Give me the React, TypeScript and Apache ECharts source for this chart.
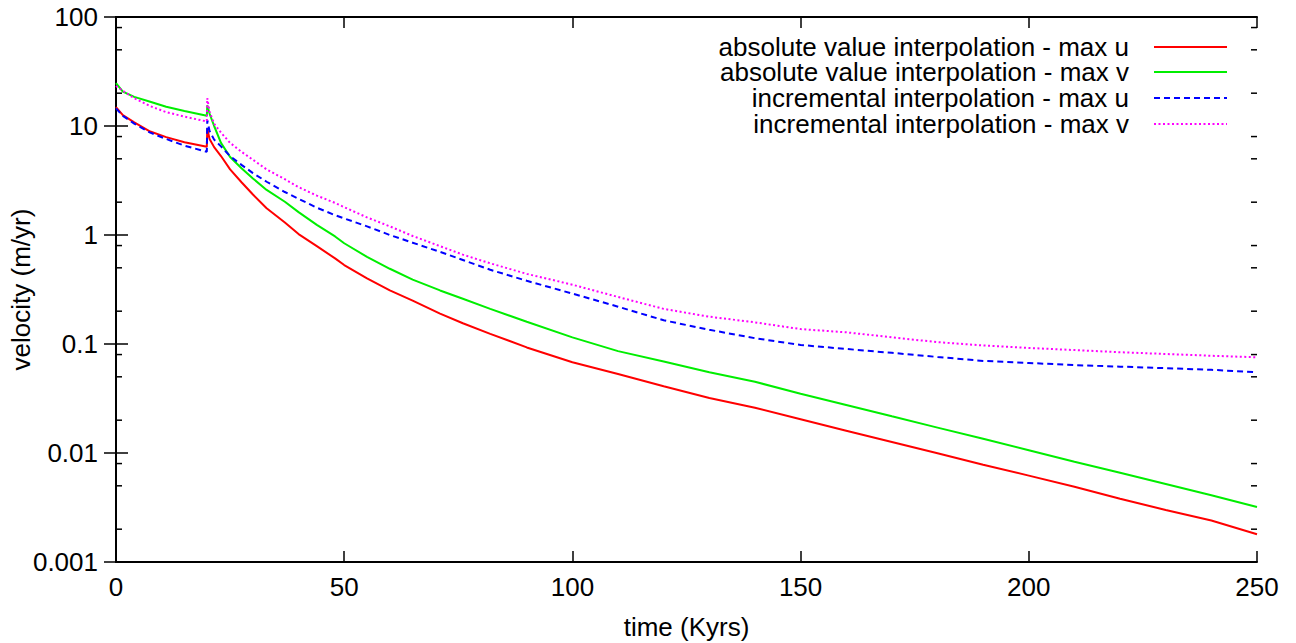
import React, { useEffect, useRef } from "react";
import * as echarts from "echarts";

const times = [0, 1.5, 4, 7.5, 11, 15, 19.9, 20, 20.5, 21.5, 23, 25, 27.5, 30, 33, 37, 40, 44, 48, 50, 55, 60, 65, 71, 76, 82, 90, 100, 110, 120, 130, 140, 150, 160, 170, 180, 190, 200, 210, 220, 230, 240, 250];

const absMaxU = [14.9, 12.6, 10.8, 8.9, 7.9, 7.1, 6.45, 9.5, 7.6, 6.4, 5.3, 4.0, 3.05, 2.35, 1.76, 1.3, 1.02, 0.79, 0.61, 0.53, 0.4, 0.31, 0.25, 0.19, 0.155, 0.124, 0.093, 0.068, 0.053, 0.041, 0.032, 0.026, 0.0204, 0.016, 0.0126, 0.00995, 0.0078, 0.0062, 0.0049, 0.0038, 0.003, 0.0024, 0.0018];
const absMaxV = [24.7, 20.7, 18.5, 16.7, 15.0, 13.7, 12.4, 15.5, 13.0, 10.0, 7.0, 5.2, 4.1, 3.3, 2.59, 2.02, 1.62, 1.24, 0.97, 0.84, 0.63, 0.49, 0.39, 0.31, 0.26, 0.21, 0.16, 0.115, 0.086, 0.069, 0.055, 0.045, 0.035, 0.0276, 0.0217, 0.0171, 0.0135, 0.0106, 0.0083, 0.0066, 0.0052, 0.0041, 0.0032];
const incMaxU = [14.5, 12.4, 10.5, 8.7, 7.6, 6.6, 5.8, 11.3, 9.0, 7.5, 6.5, 5.3, 4.4, 3.7, 3.08, 2.48, 2.15, 1.78, 1.52, 1.42, 1.2, 1.0, 0.85, 0.7, 0.59, 0.48, 0.38, 0.29, 0.22, 0.165, 0.135, 0.113, 0.098, 0.09, 0.083, 0.076, 0.07, 0.067, 0.064, 0.062, 0.06, 0.058, 0.055];
const incMaxV = [23.3, 21.0, 18.0, 15.2, 13.4, 12.2, 11.0, 18.0, 13.5, 10.5, 8.7, 7.0, 5.8, 4.9, 4.0, 3.25, 2.75, 2.3, 1.97, 1.8, 1.45, 1.2, 0.98, 0.79, 0.66, 0.55, 0.44, 0.35, 0.27, 0.21, 0.178, 0.158, 0.137, 0.128, 0.115, 0.104, 0.097, 0.092, 0.088, 0.084, 0.081, 0.078, 0.0755];

const seriesNames = [
  "absolute value interpolation - max u",
  "absolute value interpolation - max v",
  "incremental interpolation - max u",
  "incremental interpolation - max v",
];
const seriesColors = ["#ff0000", "#00ee00", "#0000ff", "#ff00ff"];

const xTicks = [0, 50, 100, 150, 200, 250];
const yMinorTicks = [0.002, 0.005, 0.008, 0.02, 0.05, 0.08, 0.2, 0.5, 0.8, 2, 5, 8, 20, 50, 80];

const FONT = "'Liberation Sans', Arial, Helvetica, sans-serif";
const FS = 26;

export default function App() {
  const ref = useRef<HTMLDivElement>(null);
  useEffect(() => {
    if (!ref.current) return;
    const chart = echarts.init(ref.current, null, { renderer: "svg" });
    const xMin = xTicks[0];
    const xMax = xTicks[xTicks.length - 1];
    const pairs = (vals: number[]) => times.map((t, i) => [t, vals[i]]);
    const allVals = [absMaxU, absMaxV, incMaxU, incMaxV];
    const dashes: any[] = ["solid", "solid", [6, 4], [2, 2.5]];
    const legendTops = [34, 59, 85, 111];

    const lineSeries = allVals.map((vals, i) => ({
      name: seriesNames[i],
      type: "line",
      data: pairs(vals),
      showSymbol: false,
      symbol: "none",
      lineStyle: { color: seriesColors[i], width: 2, type: dashes[i] },
      itemStyle: { color: seriesColors[i] },
      z: 3 + i,
    }));

    const minorSeries = {
      type: "custom",
      name: "minor",
      silent: true,
      clip: false,
      data: yMinorTicks.map((v) => [xMin, v]),
      encode: { x: 0, y: 1 },
      renderItem: (_p: any, api: any) => {
        const v = api.value(1);
        const a = api.coord([xMin, v]);
        const b = api.coord([xMax, v]);
        return {
          type: "group",
          children: [
            { type: "line", shape: { x1: a[0], y1: a[1], x2: a[0] + 6, y2: a[1] }, style: { stroke: "#000", lineWidth: 1.5 } },
            { type: "line", shape: { x1: b[0] - 6, y1: b[1], x2: b[0], y2: b[1] }, style: { stroke: "#000", lineWidth: 1.5 } },
          ],
        };
      },
      z: 10,
    };

    chart.setOption({
      animation: false,
      backgroundColor: "#ffffff",
      grid: { left: 116, right: 39, top: 17, bottom: 81, containLabel: false, outerBoundsMode: "none" },
      legend: seriesNames.map((n, i) => ({
        data: [n],
        orient: "vertical",
        right: 68,
        top: legendTops[i],
        align: "right",
        itemWidth: 73,
        itemHeight: 12,
        selectedMode: false,
        padding: 0,
        itemStyle: { color: "rgba(0,0,0,0)", borderWidth: 0, opacity: 0 },
        textStyle: { fontFamily: FONT, fontSize: FS, lineHeight: 22, color: "#000", padding: [0, 20, 0, 0] },
      })),
      xAxis: [
        {
          type: "value",
          min: xMin,
          max: xMax,
          interval: 50,
          name: "time (Kyrs)",
          nameLocation: "middle",
          nameGap: 52,
          nameTextStyle: { fontFamily: FONT, fontSize: FS, color: "#000" },
          axisLine: { show: true, lineStyle: { color: "#000", width: 2 } },
          axisTick: { show: true, inside: true, length: 11, lineStyle: { color: "#000", width: 1.5 } },
          axisLabel: { fontFamily: FONT, fontSize: FS, color: "#000", margin: 12 },
          splitLine: { show: false },
        },
        {
          type: "value",
          position: "top",
          min: xMin,
          max: xMax,
          interval: 50,
          axisLine: { show: true, lineStyle: { color: "#000", width: 2 } },
          axisTick: { show: true, inside: true, length: 11, lineStyle: { color: "#000", width: 1.5 } },
          axisLabel: { show: false },
          splitLine: { show: false },
        },
      ],
      yAxis: [
        {
          type: "log",
          logBase: 10,
          min: 0.001,
          max: 100,
          name: "velocity (m/yr)",
          nameLocation: "middle",
          nameGap: 82,
          nameMoveOverlap: false,
          nameTextStyle: { fontFamily: FONT, fontSize: FS, color: "#000" },
          axisLine: { show: true, lineStyle: { color: "#000", width: 2 } },
          axisTick: { show: true, inside: true, length: 12, lineStyle: { color: "#000", width: 1.5 } },
          axisLabel: { fontFamily: FONT, fontSize: FS, color: "#000", margin: 18 },
          splitLine: { show: false },
        },
        {
          type: "log",
          logBase: 10,
          position: "right",
          min: 0.001,
          max: 100,
          axisLine: { show: true, lineStyle: { color: "#000", width: 2 } },
          axisTick: { show: true, inside: true, length: 12, lineStyle: { color: "#000", width: 1.5 } },
          axisLabel: { show: false },
          splitLine: { show: false },
        },
      ],
      series: [...lineSeries, minorSeries],
    });
    return () => chart.dispose();
  }, []);
  return <div ref={ref} style={{ position: "fixed", left: 0, top: 0, width: 1296, height: 643 }} />;
}
